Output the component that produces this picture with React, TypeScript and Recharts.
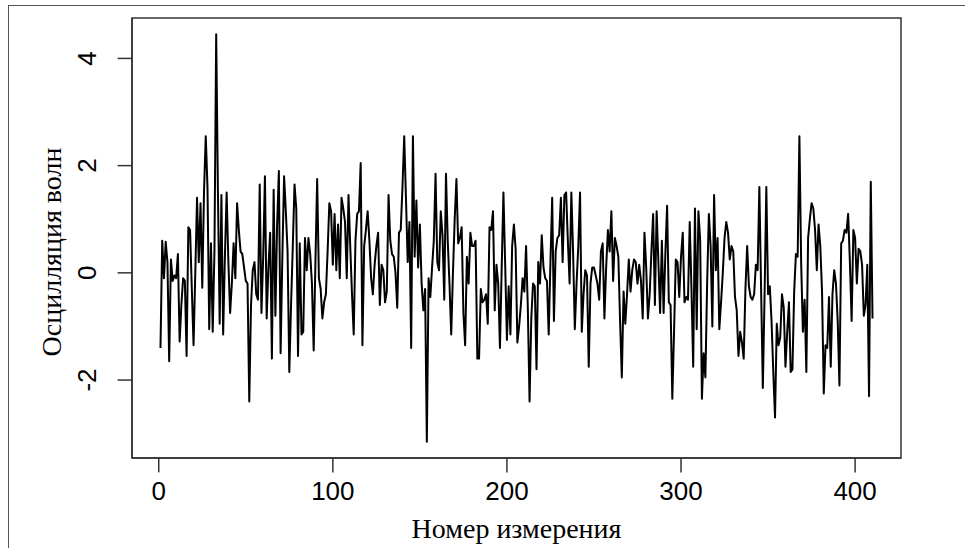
import React from 'react';
import { LineChart, Line, XAxis, YAxis, ReferenceArea } from 'recharts';

const oscillation: number[] = [
  -1.40, 0.60, -0.10, 0.58, 0.20, -1.65, 0.25, -0.15, -0.05, -0.10,
  0.35, -1.28, -0.60, -0.10, -0.15, -1.55, 0.85, 0.80, -0.30, -1.35,
  0.00, 1.40, 0.20, 1.30, -0.28, 1.50, 2.55, 1.60, -1.05, 0.55,
  -1.10, 0.40,
  4.45, 1.50, -0.95, 1.45, -1.15, 0.30, 1.50, 0.20, -0.75, -0.20,
  0.55, -0.10, 1.30, 0.80, 0.40, 0.35, 0.10, -0.15, -0.20, -2.40, -0.60,
  0.05, 0.20, -0.40, -0.50, 1.65, -0.75, 0.30, 1.80, -0.85, 0.10,
  0.75, -1.60, 1.55, -0.80, 0.90, 1.90, -1.50,
  0.30, 1.80, 1.15, 0.40, -1.85, -0.60, 0.50, 1.65, 1.20, -1.55,
  0.55, -1.15, -1.10, 0.65, 0.05, 0.65, 0.35, -0.20, -1.45, 0.20,
  1.75, -0.10, -0.30, -0.85, -0.55, -0.40, 0.40, 1.30, 1.15, 0.15,
  1.10, 0.05, 0.90, -0.10, 1.40, 1.20,
  0.95, -0.10, 1.45, 0.50, -0.40, -1.15, 0.60, 1.10, 1.15, 2.05,
  -1.35, 0.50, 0.80, 1.15, 0.60, -0.10, -0.40, 0.15, 0.50, 0.75,
  -0.60, 0.15, 0.05, -0.55, -0.35, 1.45, 0.60, 0.35, 0.30, 0.00,
  -0.65, 0.75, 0.80, 1.60, 2.55, 1.40, 0.20, 0.95, -1.40,
  2.55, 0.30, 1.35, 0.10, 0.90, -0.20, -0.70, -0.30, -3.15, -0.10,
  -0.45, 0.10, 0.60, 1.85, 0.20, 0.05, 1.15, 0.70, -0.50, 1.85,
  0.60, -0.20, -1.15, 0.00, 1.00, 1.75, 0.55, 0.65, 0.85, -0.75,
  -1.35, 0.30, -0.20, 0.75, 0.50, 0.50,
  0.60, -1.60, -1.60, -0.30, -0.55, -0.50, -0.40, -0.95, 0.85, 0.80,
  1.15, -0.70, 0.15, -0.20, -1.40, 0.10, 1.50, 0.15, -1.25, -0.25,
  -1.15, 0.50, 0.90, 0.45, -1.30, -1.00, -0.60, -0.10, -0.35, 0.50,
  -0.65, -2.40, -0.85, -0.20, -0.25, -1.80, 0.20,
  -0.20, 0.70, 0.10, -0.10, -0.15, -1.15, 0.20, 1.40, -0.90, 0.40,
  0.65, 0.70, 1.40, 0.20, 1.45, 1.50, 0.60, -0.20, 1.50, 0.40,
  -1.05, -0.20, 0.50, 1.50, -1.10, -0.40, 0.05, -0.05, -1.75, -0.20,
  0.10, 0.10, -0.05, -0.20, -0.50, 0.40, 0.55,
  -0.85, 0.10, 0.80, 0.40, 1.15, -0.15, 0.65, 0.50, 0.30, -0.90,
  -1.95, -0.35, -0.95, -0.40, 0.25, -0.35, 0.05, 0.25, 0.20, -0.20,
  0.15, -0.15, -0.85, 0.75, 0.10, -0.85, -0.40, 0.40, 1.10, -0.60,
  1.15, 0.20, -0.75, 0.60, -0.75, 0.35, 1.25,
  -0.55, -0.60, -2.35, -1.10, 0.25, 0.20, -0.45, 0.30, 0.75, -0.55,
  -0.45, -0.50, 0.95, -0.30, -1.75, 1.20, -1.05, 1.15, 0.60, -2.35,
  -1.50, -1.95, -0.20, 1.10, 0.50, -1.00, 1.45, 0.05, 0.65, -1.05,
  -0.55, 0.00, 0.65, 0.95, 0.75, 0.25, 0.50,
  0.40, -0.45, -0.70, -1.55, -1.10, -1.30, -1.60, -0.30, 0.50, -0.25,
  -0.45, -0.50, -0.40, 0.15, 0.05, 1.60, -0.30, -2.15, -0.40, 1.60,
  -0.40, -0.25, -0.90, -1.85, -2.70, -0.95, -1.35, -1.20, -0.40, -0.65,
  -1.75, -1.10, -0.55, -1.85, -1.80, -0.35, 0.35,
  0.30, 2.55, 0.20, -1.10, -0.50, -1.85, 0.65, 1.00, 1.30, 1.20,
  0.80, 0.05, 0.90, 0.50, -0.35, -2.25, -1.35, -1.40, -0.45, -1.75,
  -0.40, 0.05, -0.20, -0.90, -2.10, 0.55, 0.60, 0.80, 0.75, 1.10,
  0.20, -0.90, 0.80, 0.65, -0.20, 0.45, 0.40, 0.15, -0.80, -0.60,
  0.15, -2.30, 1.70, -0.85,
];

const xTicks: number[] = [0, 100, 200, 300, 400];
const yTicks: number[] = [-2, 0, 2, 4];
const xTitle = 'Номер измерения';
const yTitle = 'Осцилляция волн';

const data = oscillation.map((v, i) => ({ n: i + 1, v }));

// R-style 4% axis padding
const nMax = data.length;
const xPad = 0.04 * (nMax - 1);
const xDomain: [number, number] = [1 - xPad, nMax + xPad];
const vMin = Math.min(...oscillation);
const vMax = Math.max(...oscillation);
const yPad = 0.04 * (vMax - vMin);
const yDomain: [number, number] = [vMin - yPad, vMax + yPad];

const TICK_FONT = '"Liberation Sans", Arial, sans-serif';
const TITLE_FONT = '"Liberation Serif", "Times New Roman", serif';
const TICK_LEN = 14.4;
const TICK_SIZE = 26;

const XTick = (p: any) => (
  <text
    x={p.x}
    y={p.y + 18.6}
    textAnchor="middle"
    dominantBaseline="central"
    fontFamily={TICK_FONT}
    fontSize={TICK_SIZE}
    fill="#000"
  >
    {p.payload.value}
  </text>
);

const YTick = (p: any) => {
  const cx = p.x - 30.6;
  return (
    <text
      x={cx}
      y={p.y}
      transform={`rotate(-90, ${cx}, ${p.y})`}
      textAnchor="middle"
      dominantBaseline="central"
      fontFamily={TICK_FONT}
      fontSize={TICK_SIZE}
      fill="#000"
    >
      {p.payload.value}
    </text>
  );
};

export default function App() {
  return (
    <div style={{ position: 'absolute', left: 0, top: 0, width: 965, height: 548, background: '#fff', overflow: 'hidden' }}>
      <div
        style={{
          position: 'absolute',
          left: 8,
          top: 5,
          width: 1000,
          height: 600,
          borderLeft: '1.5px solid #555',
          borderTop: '1.5px solid #555',
          boxSizing: 'border-box',
        }}
      />
      <div style={{ position: 'absolute', left: 0, top: 0 }}>
        <LineChart
          width={965}
          height={548}
          data={data}
          margin={{ top: 18, right: 64, bottom: 30, left: 32 }}
        >
          <XAxis
            dataKey="n"
            type="number"
            domain={xDomain}
            ticks={xTicks}
            allowDataOverflow
            height={60}
            tickSize={TICK_LEN}
            tickMargin={0}
            axisLine={{ stroke: '#333', strokeWidth: 1.5 }}
            tickLine={{ stroke: '#333', strokeWidth: 1.5 }}
            tick={XTick}
            interval={0}
          />
          <YAxis
            type="number"
            domain={yDomain}
            ticks={yTicks}
            allowDataOverflow
            width={100}
            tickSize={TICK_LEN}
            tickMargin={0}
            axisLine={{ stroke: '#333', strokeWidth: 1.5 }}
            tickLine={{ stroke: '#333', strokeWidth: 1.5 }}
            tick={YTick}
            interval={0}
          />
          <ReferenceArea
            x1={xDomain[0]}
            x2={xDomain[1]}
            y1={yDomain[0]}
            y2={yDomain[1]}
            fill="none"
            stroke="#333"
            strokeWidth={1.5}
            ifOverflow="visible"
          />
          <Line
            type="linear"
            dataKey="v"
            stroke="#000"
            strokeWidth={2}
            dot={false}
            strokeLinejoin="round"
            isAnimationActive={false}
          />
        </LineChart>
      </div>
      <div
        style={{
          position: 'absolute',
          left: 132,
          width: 769,
          top: 514,
          height: 30,
          lineHeight: '30px',
          textAlign: 'center',
          fontFamily: TITLE_FONT,
          fontSize: 28,
          color: '#000',
          whiteSpace: 'nowrap',
        }}
      >
        {xTitle}
      </div>
      <div
        style={{
          position: 'absolute',
          left: 52 - 150,
          width: 300,
          top: 252 - 15,
          height: 30,
          lineHeight: '30px',
          textAlign: 'center',
          fontFamily: TITLE_FONT,
          fontSize: 28,
          color: '#000',
          whiteSpace: 'nowrap',
          transform: 'rotate(-90deg)',
          transformOrigin: '50% 50%',
        }}
      >
        {yTitle}
      </div>
    </div>
  );
}
